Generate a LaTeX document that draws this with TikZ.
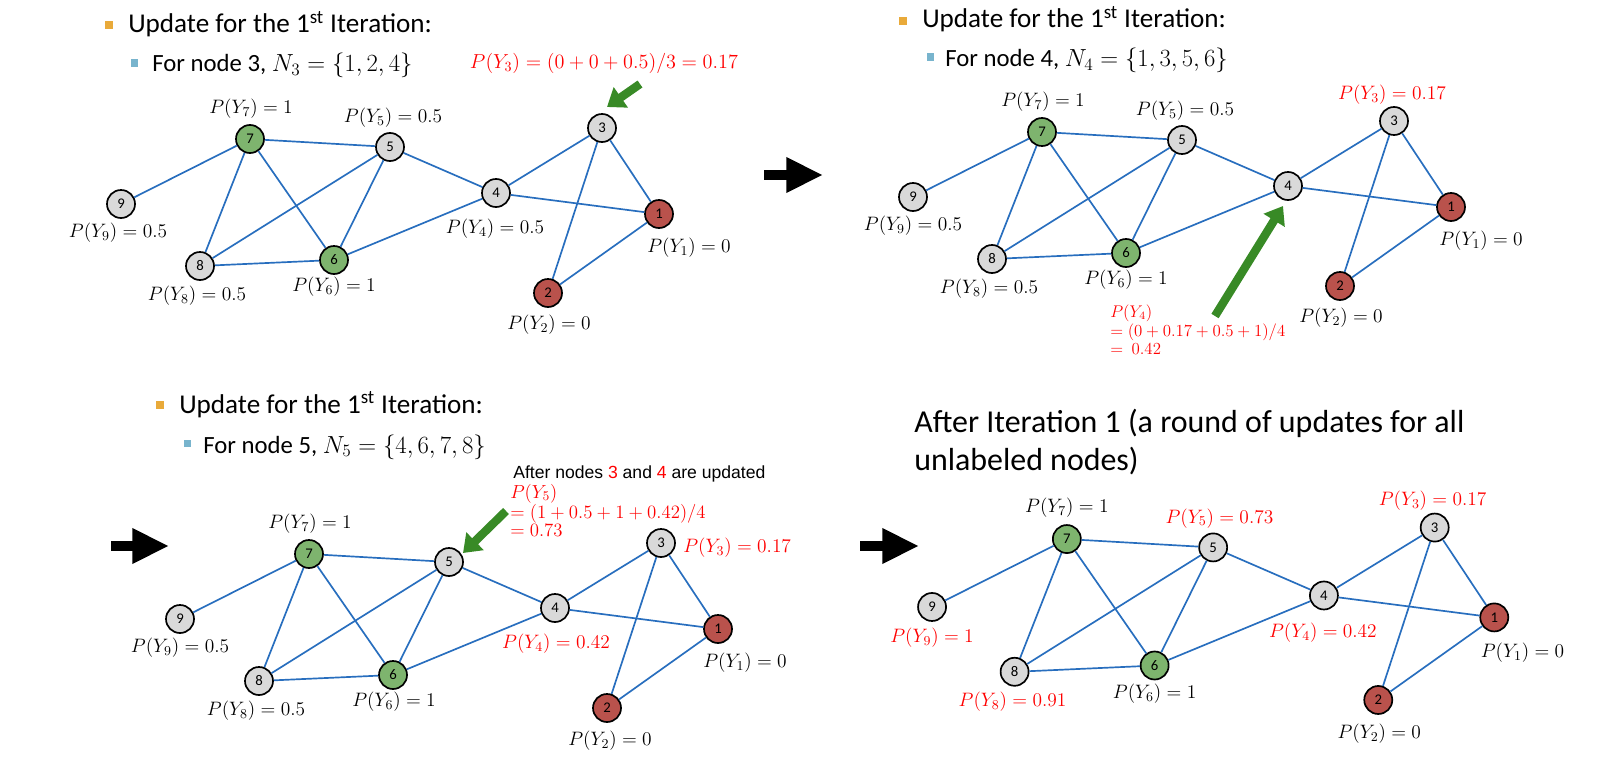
\documentclass[tikz,border=0pt]{standalone}
\usepackage{fix-cm}
\usepackage[no-math]{fontspec}
\setmainfont{Carlito}
\newfontfamily\arialfont{Liberation Sans}
\usepackage{tikz}
\usetikzlibrary{arrows.meta}

\definecolor{nodegray}{RGB}{217,217,217}
\definecolor{nodegreen}{RGB}{126,180,110}
\definecolor{nodered}{RGB}{185,82,76}
\definecolor{edgeblue}{RGB}{40,110,190}
\definecolor{arrowgreen}{RGB}{56,138,38}
\definecolor{bulletorange}{RGB}{233,170,58}
\definecolor{bulletblue}{RGB}{120,180,205}

% the same graph is drawn in all four panels
\newcommand{\vertexlist}{1/659/214/nodered, 2/548/293/nodered, 3/602/128/nodegray,
  4/496/193/nodegray, 5/390/147/nodegray, 6/334/260/nodegreen, 7/250/139/nodegreen,
  8/200/266/nodegray, 9/121/204/nodegray}
\newcommand{\edgelist}{9/7, 7/5, 7/8, 7/6, 5/8, 5/6, 5/4, 8/6, 6/4, 4/3, 4/1, 3/1, 3/2, 2/1}

\tikzset{
  vertex/.style={circle, draw=black, line width=1.2pt, minimum size=0.7cm, inner sep=0pt,
    font=\fontsize{10.5}{12}\selectfont},
  edge/.style={draw=edgeblue, line width=1.2pt},
  prob/.style={inner sep=0pt, font=\fontsize{13.8}{16}\selectfont},
  newprob/.style={prob, text=red},
  formula/.style={anchor=base west, inner sep=0pt, text=red,
    font=\fontsize{12}{15}\selectfont},
  heading/.style={anchor=base west, inner sep=0pt, font=\fontsize{19.3}{23}\selectfont},
  subheading/.style={anchor=base west, inner sep=0pt, font=\fontsize{17.6}{21}\selectfont},
  title/.style={anchor=base west, inner sep=0pt, font=\fontsize{22.7}{27}\selectfont},
  obullet/.style={fill=bulletorange, minimum size=0.2cm, inner sep=0pt},
  bbullet/.style={fill=bulletblue, minimum size=0.175cm, inner sep=0pt},
  greenarrow/.style={draw=arrowgreen, line width=6pt, -{Triangle[length=12pt,width=17pt]}},
  blackarrow/.style={draw=black, line width=7.8pt, -{Triangle[length=26pt,width=23.5pt]}},
}

\begin{document}
\begin{tikzpicture}[x=0.025cm, y=-0.025cm]
\useasboundingbox (0,0) rectangle (1598,762);

% panel 1: node 3
\node[obullet] (ob1) at (109,25) {};
\node[heading] (h1) at (128,33) {Update for the 1\textsuperscript{st} Iteration:};
\node[bbullet] (bb1) at (134,63) {};
\node[subheading] (s1) at (152,72) {For node 3, $N_3 = \{1,2,4\}$};

\begin{scope}
  \foreach \n/\x/\y/\c in \vertexlist
    \node[vertex, fill=\c] (a\n) at (\x,\y) {\n};
  \foreach \p/\q in \edgelist
    \draw[edge] (a\p) -- (a\q);
  \node[prob] (a7p) at (251,109) {$P(Y_7) = 1$};
  \node[prob] (a5p) at (393,118) {$P(Y_5) = 0.5$};
  \node[prob] (a9p) at (118,233) {$P(Y_9) = 0.5$};
  \node[prob] (a4p) at (495,229) {$P(Y_4) = 0.5$};
  \node[prob] (a1p) at (689,248) {$P(Y_1) = 0$};
  \node[prob] (a8p) at (197,296) {$P(Y_8) = 0.5$};
  \node[prob] (a6p) at (334,287) {$P(Y_6) = 1$};
  \node[prob] (a2p) at (549,325) {$P(Y_2) = 0$};
  \node[newprob, font=\fontsize{14.4}{17}\selectfont] (a3p) at (604,63)
    {$P(Y_3) = (0 + 0 + 0.5)/3 = 0.17$};
  \coordinate (a3from) at (640,84);
  \coordinate (a3to) at (607,107);
  \draw[greenarrow] (a3from) -- (a3to);
\end{scope}

\coordinate (ar1s) at (764,175);
\coordinate (ar1e) at (823,175);
\draw[blackarrow] (ar1s) -- (ar1e);

% panel 2: node 4
\node[obullet] (ob2) at (903,21) {};
\node[heading] (h2) at (922,28) {Update for the 1\textsuperscript{st} Iteration:};
\node[bbullet] (bb2) at (930,57) {};
\node[subheading] (s2) at (945,67) {For node 4, $N_4 = \{1,3,5,6\}$};

\begin{scope}[shift={(792,-7)}]
  \foreach \n/\x/\y/\c in \vertexlist
    \node[vertex, fill=\c] (b\n) at (\x,\y) {\n};
  \foreach \p/\q in \edgelist
    \draw[edge] (b\p) -- (b\q);
  \node[prob] (b7p) at (251,109) {$P(Y_7) = 1$};
  \node[prob] (b5p) at (393,118) {$P(Y_5) = 0.5$};
  \node[prob] (b9p) at (121,233) {$P(Y_9) = 0.5$};
  \node[prob] (b1p) at (689,248) {$P(Y_1) = 0$};
  \node[prob] (b8p) at (197,296) {$P(Y_8) = 0.5$};
  \node[prob] (b6p) at (334,287) {$P(Y_6) = 1$};
  \node[prob] (b2p) at (549,325) {$P(Y_2) = 0$};
  \node[newprob] (b3p) at (600,102) {$P(Y_3) = 0.17$};
  \node[formula] (b4l1) at (318,324) {$P(Y_4)$};
  \node[formula] (b4l2) at (318,343) {$= (0 + 0.17 + 0.5 + 1)/4$};
  \node[formula] (b4l3) at (318,361) {$=\ 0.42$};
  \coordinate (b4from) at (423,323);
  \coordinate (b4to) at (491,213);
  \draw[greenarrow] (b4from) -- (b4to);
\end{scope}

% panel 3: node 5
\node[obullet] (ob3) at (160,405) {};
\node[heading] (h3) at (179,413) {Update for the 1\textsuperscript{st} Iteration:};
\node[bbullet] (bb3) at (187,443) {};
\node[subheading] (s3) at (203,453) {For node 5, $N_5 = \{4,6,7,8\}$};

\coordinate (ar2s) at (111,546);
\coordinate (ar2e) at (169,546);
\draw[blackarrow] (ar2s) -- (ar2e);

\begin{scope}[shift={(59,415)}]
  \foreach \n/\x/\y/\c in \vertexlist
    \node[vertex, fill=\c] (c\n) at (\x,\y) {\n};
  \foreach \p/\q in \edgelist
    \draw[edge] (c\p) -- (c\q);
  \node[prob] (c7p) at (251,109) {$P(Y_7) = 1$};
  \node[prob] (c9p) at (121,233) {$P(Y_9) = 0.5$};
  \node[newprob] (c4p) at (497,229) {$P(Y_4) = 0.42$};
  \node[prob] (c1p) at (686,248) {$P(Y_1) = 0$};
  \node[prob] (c8p) at (197,296) {$P(Y_8) = 0.5$};
  \node[prob] (c6p) at (335,287) {$P(Y_6) = 1$};
  \node[prob] (c2p) at (551,326) {$P(Y_2) = 0$};
  \node[newprob, anchor=west] (c3p) at (624,133) {$P(Y_3) = 0.17$};
  \node[anchor=base west, inner sep=0pt, font=\arialfont\fontsize{12.5}{15}\selectfont] (cnote)
    at (454,63) {After nodes \textcolor{red}{3} and \textcolor{red}{4} are updated};
  \node[formula, font=\fontsize{13.4}{15}\selectfont] (c5l1) at (451,83) {$P(Y_5)$};
  \node[formula, font=\fontsize{13.4}{15}\selectfont] (c5l2) at (451,103) {$= (1 + 0.5 + 1 + 0.42)/4$};
  \node[formula, font=\fontsize{13.4}{15}\selectfont] (c5l3) at (451,121) {$= 0.73$};
  \coordinate (c5from) at (447,96);
  \coordinate (c5to) at (404,138);
  \draw[greenarrow] (c5from) -- (c5to);
\end{scope}

% panel 4: after iteration 1
\node[title] (t4a) at (914,432) {After Iteration 1 (a round of updates for all};
\node[title] (t4b) at (914,470) {unlabeled nodes)};

\coordinate (ar3s) at (860,546);
\coordinate (ar3e) at (919,546);
\draw[blackarrow] (ar3s) -- (ar3e);

\begin{scope}[shift={(805.6,393.8)}, scale=1.045]
  \foreach \n/\x/\y/\c in \vertexlist
    \node[vertex, fill=\c] (d\n) at (\x,\y) {\n};
  \foreach \p/\q in \edgelist
    \draw[edge] (d\p) -- (d\q);
  \node[prob] (d7p) at (250,109) {$P(Y_7) = 1$};
  \node[newprob] (d5p) at (396,119) {$P(Y_5) = 0.73$};
  \node[newprob] (d9p) at (121,233) {$P(Y_9) = 1$};
  \node[newprob] (d4p) at (495,229) {$P(Y_4) = 0.42$};
  \node[newprob] (d3p) at (600,102) {$P(Y_3) = 0.17$};
  \node[prob] (d1p) at (686,248) {$P(Y_1) = 0$};
  \node[newprob] (d8p) at (198,295) {$P(Y_8) = 0.91$};
  \node[prob] (d6p) at (334,287) {$P(Y_6) = 1$};
  \node[prob] (d2p) at (549,325) {$P(Y_2) = 0$};
\end{scope}
\end{tikzpicture}
\end{document}
